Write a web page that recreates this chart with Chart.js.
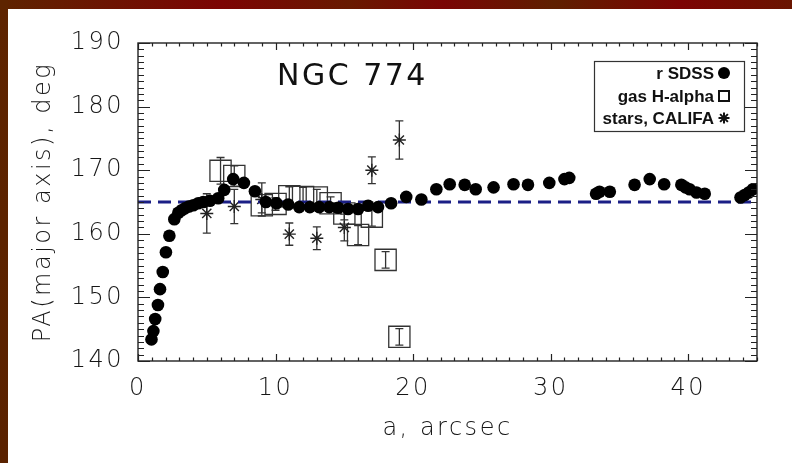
<!DOCTYPE html>
<html>
<head>
<meta charset="utf-8">
<title>NGC 774 position angle profile</title>
<script src="https://cdn.jsdelivr.net/npm/chart.js@4.4.1/dist/chart.umd.min.js"></script>
<style>
  html, body { margin: 0; padding: 0; background: #fff; }
  #wrap { position: relative; width: 792px; height: 463px; overflow: hidden; background: #fff; }
  .edge { position: absolute; }
  #edgeTop { left: 0; top: 0; width: 792px; height: 9px;
    background: linear-gradient(90deg, #5e2400 0%, #7c0404 28%, #681a00 44%, #7a0505 56%, #5f2000 70%, #7c0303 86%, #6a1500 100%); }
  #edgeLeft { left: 0; top: 0; width: 8px; height: 463px;
    background: linear-gradient(180deg, #5e2400 0%, #5a2200 100%); }
  canvas { position: absolute; left: 0; top: 0; }
</style>
</head>
<body>
<div id="wrap">
  <div class="edge" id="edgeTop"></div>
  <div class="edge" id="edgeLeft"></div>
  <canvas id="pa" width="792" height="463"></canvas>
</div>
<script>
// Semi-major axis (arcsec) and position angle (deg) of the r-band SDSS isophotes
const sdssA = [0.98, 1.12, 1.25, 1.45, 1.6, 1.8, 2.03, 2.28, 2.64, 2.93, 3.17, 3.41, 3.7, 4.02,
  4.38, 4.74, 5.23, 5.83, 6.27, 6.92, 7.7, 8.5, 9.3, 10.07, 10.92, 11.72, 12.49, 13.17, 13.9,
  14.55, 15.27, 16.0, 16.73, 17.45, 18.4, 19.5, 20.6, 21.69, 22.66, 23.75, 24.55, 25.85, 27.3,
  28.35, 29.9, 31.0, 31.35, 33.3, 33.55, 34.3, 36.1, 37.2, 38.25, 39.5, 39.8, 40.1, 40.6, 41.2,
  43.8, 44.1, 44.4, 44.7];
const sdssPA = [143.4, 144.7, 146.6, 148.8, 151.3, 154.0, 157.1, 159.7, 162.3, 163.3, 163.7,
  164.0, 164.3, 164.5, 164.8, 165.0, 165.2, 165.6, 166.9, 168.6, 168.0, 166.7, 165.0, 164.8,
  164.6, 164.2, 164.2, 164.2, 164.2, 164.1, 163.9, 163.9, 164.4, 164.2, 164.8, 165.8, 165.4,
  167.0, 167.8, 167.7, 167.0, 167.3, 167.8, 167.7, 168.0, 168.6, 168.8, 166.3, 166.6, 166.6,
  167.7, 168.6, 167.8, 167.7, 167.3, 167.0, 166.5, 166.3, 165.7, 166.1, 166.5, 167.0];

// Ionised gas (H-alpha) kinematic position angles with uncertainties
const gasA = [6, 7, 9, 10, 11, 12, 13, 14, 15, 16, 17, 18, 19];
const gasPA = [169.9, 169.1, 164.5, 164.7, 165.9, 165.8, 165.7, 164.8, 163.2, 159.8, 162.7, 155.9, 143.8];
const gasErr = [2.1, 1.6, 1.2, 1.0, 1.5, 1.5, 1.3, 1.0, 1.0, 1.5, 1.5, 1.3, 1.3];

// Stellar (CALIFA) kinematic position angles with uncertainties
const starA = [5, 7, 9, 11, 13, 15, 17, 19];
const starPA = [163.2, 164.3, 165.4, 159.95, 159.3, 161.0, 170.0, 174.75];
const starErr = [3.1, 2.7, 2.6, 1.75, 1.8, 2.1, 2.1, 3.0];

// Adopted global position angle
const refPA = 165;

// Axis ranges and labelled ticks
const xRange = [0, 45];
const yRange = [140, 190];
const xTicks = [0, 10, 20, 30, 40];
const yTicks = [140, 150, 160, 170, 180, 190];
const xMinorStep = 1;
const yMinorStep = 1;

const legendRows = ['r SDSS', 'gas H-alpha', 'stars, CALIFA'];
const plotTitle = 'NGC 774';

const INK = '#222';
const TEXT = '#161616';
const LABEL_FONT = '"DejaVu Sans", "Liberation Sans", sans-serif';

const pts = (xs, ys) => xs.map((v, i) => ({ x: v, y: ys[i] }));

// Vertical error bars with short caps, drawn through the scales
const errorBars = {
  id: 'errorBars',
  beforeDatasetsDraw(chart) {
    const { ctx, scales: { x, y }, chartArea } = chart;
    ctx.save();
    ctx.beginPath();
    ctx.rect(chartArea.left, chartArea.top, chartArea.right - chartArea.left, chartArea.bottom - chartArea.top);
    ctx.clip();
    ctx.strokeStyle = '#333';
    ctx.lineWidth = 1.3;
    const draw = (as, ps, es) => {
      as.forEach((a, i) => {
        const px = x.getPixelForValue(a);
        const y1 = y.getPixelForValue(ps[i] - es[i]);
        const y2 = y.getPixelForValue(ps[i] + es[i]);
        ctx.beginPath();
        ctx.moveTo(px, y1); ctx.lineTo(px, y2);
        ctx.moveTo(px - 4, y1); ctx.lineTo(px + 4, y1);
        ctx.moveTo(px - 4, y2); ctx.lineTo(px + 4, y2);
        ctx.stroke();
      });
    };
    draw(gasA, gasPA, gasErr);
    draw(starA, starPA, starErr);
    ctx.restore();
  }
};

// Closed frame with inward major/minor ticks on all four sides
const frameTicks = {
  id: 'frameTicks',
  afterDatasetsDraw(chart) {
    const { ctx, chartArea: { left, right, top, bottom }, scales: { x, y } } = chart;
    ctx.save();
    ctx.strokeStyle = INK;
    ctx.lineWidth = 1.4;
    ctx.strokeRect(left, top, right - left, bottom - top);
    ctx.lineWidth = 1.2;
    ctx.beginPath();
    for (let v = xRange[0]; v <= xRange[1] + 1e-9; v += xMinorStep) {
      const px = Math.round(x.getPixelForValue(v)) + 0.5;
      const len = xTicks.includes(v) ? 7 : 3.5;
      ctx.moveTo(px, bottom); ctx.lineTo(px, bottom - len);
      ctx.moveTo(px, top); ctx.lineTo(px, top + len);
    }
    for (let v = yRange[0]; v <= yRange[1] + 1e-9; v += yMinorStep) {
      const py = Math.round(y.getPixelForValue(v)) + 0.5;
      const len = yTicks.includes(v) ? 12 : 6;
      ctx.moveTo(left, py); ctx.lineTo(left + len, py);
      ctx.moveTo(right, py); ctx.lineTo(right - len, py);
    }
    ctx.stroke();
    ctx.restore();
  },
  afterDraw(chart) {
    const { ctx, chartArea: { left, top } } = chart;
    ctx.save();
    // plot title inside the frame
    ctx.letterSpacing = '2.5px';
    ctx.fillStyle = '#111';
    ctx.font = '30px ' + LABEL_FONT;
    ctx.textAlign = 'left';
    ctx.textBaseline = 'alphabetic';
    ctx.fillText(plotTitle, left + 139, top + 42);

    // legend box, top right
    const bx = 594, by = 61, bw = 150, bh = 70;
    ctx.letterSpacing = '0px';
    ctx.fillStyle = '#fff';
    ctx.fillRect(bx, by, bw, bh);
    ctx.strokeStyle = '#333';
    ctx.lineWidth = 1.2;
    ctx.strokeRect(bx + 0.5, by + 0.5, bw, bh);
    ctx.fillStyle = '#111';
    ctx.font = 'bold 17px "Liberation Sans", Arial, sans-serif';
    ctx.textAlign = 'right';
    ctx.textBaseline = 'middle';
    const rowY = [by + 12, by + 35, by + 57];
    const textR = bx + 120;
    const mx = bx + 130;
    legendRows.forEach((t, i) => ctx.fillText(t, textR, rowY[i] + 1));
    // markers
    ctx.fillStyle = '#000';
    ctx.beginPath(); ctx.arc(mx, rowY[0], 6, 0, Math.PI * 2); ctx.fill();
    ctx.strokeStyle = '#111';
    ctx.lineWidth = 2;
    ctx.strokeRect(mx - 5, rowY[1] - 5, 10, 10);
    ctx.lineWidth = 2;
    ctx.beginPath();
    for (let k = 0; k < 4; k++) {
      const ang = k * Math.PI / 4;
      const dx = Math.cos(ang) * 5.5, dy = Math.sin(ang) * 5.5;
      ctx.moveTo(mx - dx, rowY[2] - dy); ctx.lineTo(mx + dx, rowY[2] + dy);
    }
    ctx.stroke();
    ctx.restore();
  }
};

// Wide letter spacing for the axis labelling
const spacing = {
  id: 'spacing',
  beforeLayout(chart) { chart.ctx.letterSpacing = '2.5px'; },
  beforeDraw(chart) { chart.ctx.letterSpacing = '2.5px'; }
};

new Chart(document.getElementById('pa'), {
  type: 'scatter',
  data: {
    datasets: [
      {
        label: legendRows[0],
        data: pts(sdssA, sdssPA),
        pointStyle: 'circle',
        pointRadius: 6.3,
        backgroundColor: '#000',
        borderColor: '#000',
        borderWidth: 0,
        order: 0
      },
      {
        type: 'line',
        label: 'PA',
        data: [{ x: xRange[0], y: refPA }, { x: xRange[1], y: refPA }],
        borderColor: '#1b1f86',
        borderWidth: 3,
        borderDash: [13, 7],
        pointRadius: 0,
        fill: false,
        order: 1
      },
      {
        label: legendRows[2],
        data: pts(starA, starPA),
        pointStyle: 'star',
        pointRadius: 6.5,
        borderColor: '#222',
        backgroundColor: 'rgba(0,0,0,0)',
        borderWidth: 1.4,
        order: 2
      },
      {
        label: legendRows[1],
        data: pts(gasA, gasPA),
        pointStyle: 'rect',
        pointRadius: 15,
        borderColor: '#333',
        backgroundColor: 'rgba(0,0,0,0)',
        borderWidth: 1.3,
        order: 3
      }
    ]
  },
  options: {
    responsive: false,
    animation: false,
    devicePixelRatio: 1,
    layout: { padding: { left: 0, top: 43, right: 35, bottom: 0 } },
    plugins: { legend: { display: false }, tooltip: { enabled: false }, title: { display: false } },
    scales: {
      x: {
        type: 'linear',
        min: xRange[0], max: xRange[1],
        afterBuildTicks(s) { s.ticks = xTicks.map(v => ({ value: v })); },
        afterFit(s) { s.height = 102; },
        grid: { display: false },
        border: { display: false },
        ticks: { color: TEXT, padding: 5, font: { family: LABEL_FONT, size: 24, weight: 200 }, maxRotation: 0 },
        title: { display: true, text: 'a, arcsec', color: TEXT, font: { family: LABEL_FONT, size: 24, weight: 200 }, padding: { top: 0, bottom: 20 } }
      },
      y: {
        type: 'linear',
        min: yRange[0], max: yRange[1],
        afterBuildTicks(s) { s.ticks = yTicks.map(v => ({ value: v })); },
        afterFit(s) { s.width = 138; },
        grid: { display: false },
        border: { display: false },
        ticks: { color: TEXT, padding: 6, font: { family: LABEL_FONT, size: 24, weight: 200 } },
        title: { display: true, text: 'PA(major axis), deg', color: TEXT, font: { family: LABEL_FONT, size: 24, weight: 200 }, padding: { top: 29, bottom: 0 } }
      }
    }
  },
  plugins: [spacing, errorBars, frameTicks]
});
</script>
</body>
</html>
